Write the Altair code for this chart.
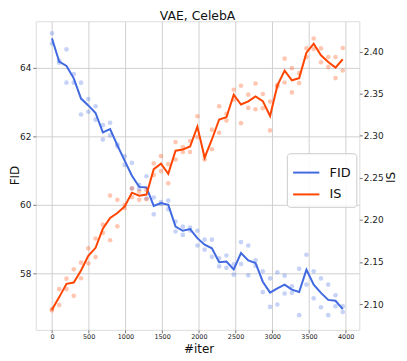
import altair as alt
import pandas as pd

ITER = [0, 99, 198, 297, 396, 495, 594, 693, 792, 891, 990, 1089, 1188, 1287, 1386,
        1485, 1584, 1683, 1782, 1881, 1980, 2079, 2178, 2277, 2376, 2475, 2574, 2673,
        2772, 2871, 2970, 3069, 3168, 3267, 3366, 3465, 3564, 3663, 3762, 3861, 3960]

FID_A = [65.00, 64.20, 64.53, 63.81, 63.56, 63.08, 62.87, 62.32, 62.39, 61.70, 61.41,
         61.22, 60.58, 60.83, 60.21, 60.08, 60.12, 59.51, 59.36, 59.33, 59.24, 58.98,
         58.98, 58.44, 58.52, 58.26, 58.91, 58.81, 58.38, 58.06, 57.85, 58.03, 57.93,
         57.62, 58.13, 58.54, 58.06, 57.85, 57.67, 57.36, 57.04]
FID_B = [64.70, 64.14, 63.56, 63.56, 62.63, 62.71, 62.48, 61.90, 62.02, 61.76, 61.16,
         60.47, 60.46, 60.18, 59.72, 60.02, 59.87, 59.22, 59.12, 59.25, 58.81, 58.69,
         58.48, 58.20, 58.16, 57.96, 58.27, 57.94, 58.22, 57.45, 57.02, 57.09, 57.41,
         57.43, 56.78, 57.67, 57.27, 57.01, 56.78, 57.04, 56.87]

IS_A = [2.0941, 2.1177, 2.1303, 2.1413, 2.1492, 2.1661, 2.1779, 2.1944, 2.2289, 2.2239,
        2.2181, 2.2377, 2.2337, 2.2357, 2.2672, 2.2758, 2.2663, 2.2927, 2.2867, 2.2938,
        2.3233, 2.2763, 2.3073, 2.3351, 2.3261, 2.3548, 2.3595, 2.3489, 2.3622, 2.3497,
        2.3407, 2.3605, 2.3917, 2.3804, 2.3745, 2.4040, 2.4157, 2.4039, 2.3937, 2.3937,
        2.4044]
IS_B = [2.0925, 2.0988, 2.1177, 2.1098, 2.1307, 2.1484, 2.1558, 2.1846, 2.1759, 2.1924,
        2.2141, 2.2271, 2.2239, 2.2247, 2.2534, 2.2581, 2.2436, 2.2719, 2.2808, 2.2808,
        2.2985, 2.2719, 2.2840, 2.3037, 2.3181, 2.3430, 2.3150, 2.3332, 2.3316, 2.3328,
        2.3064, 2.3587, 2.3634, 2.3516, 2.3627, 2.3936, 2.4032, 2.3874, 2.3819, 2.3686,
        2.3776]

X_TICKS = [0, 500, 1000, 1500, 2000, 2500, 3000, 3500, 4000]
FID_TICKS = [58, 60, 62, 64]
IS_TICKS = [2.10, 2.15, 2.20, 2.25, 2.30, 2.35, 2.40]

BLUE = "#4169e1"
ORANGE = "#ff4500"
FONT = "DejaVu Sans"

fid_df = pd.DataFrame({
    "iter": ITER + ITER,
    "value": FID_A + FID_B,
    "series": ["FID"] * (2 * len(ITER)),
})
is_df = pd.DataFrame({
    "iter": ITER + ITER,
    "value": IS_A + IS_B,
    "series": ["IS"] * (2 * len(ITER)),
})

x_enc = alt.X(
    "iter:Q",
    scale=alt.Scale(domain=[-220, 4185], nice=False, zero=False),
    axis=alt.Axis(values=X_TICKS, format="d", title="#iter", grid=True,
                  gridColor="#d0d0d0", gridWidth=1, domain=False, tickSize=3,
                  tickColor="#777", labelFontSize=6.5, labelPadding=1,
                  labelColor="#222", titleFontSize=12, titleFontWeight="normal",
                  titleColor="#111", titleX=164, titleY=19, titleBaseline="middle",
                  titleAlign="center"),
)

fid_scale = alt.Scale(domain=[56.35, 65.35], nice=False, zero=False)
fid_axis = alt.Axis(orient="left", values=FID_TICKS, format="d", title="FID", grid=True,
                    gridColor="#d0d0d0", gridWidth=1, domain=False, tickSize=3,
                    tickColor="#777", labelFontSize=9, labelPadding=2, labelColor="#222",
                    titleFontSize=12, titleFontWeight="normal", titleColor="#111",
                    titleAngle=270, titleX=-21, titleY=155, titleBaseline="middle",
                    titleAlign="center")

is_scale = alt.Scale(domain=[2.0693, 2.4362], nice=False, zero=False)
is_axis = alt.Axis(orient="right", values=IS_TICKS, format=".2f", title="IS", grid=False,
                   domain=False, tickSize=3, tickColor="#777", labelFontSize=9,
                   labelPadding=1, labelColor="#222", titleFontSize=12,
                   titleFontWeight="normal", titleColor="#111", titleAngle=270,
                   titleX=31, titleY=157, titleBaseline="middle", titleAlign="center")

color_enc = alt.Color(
    "series:N",
    scale=alt.Scale(domain=["FID", "IS"], range=[BLUE, ORANGE]),
    legend=alt.Legend(title=None, orient="none", legendX=253, legendY=133,
                      symbolType="stroke", symbolSize=700, symbolStrokeWidth=2,
                      labelFontSize=13, labelFont=FONT, labelColor="#111",
                      labelOffset=9, padding=5, rowPadding=-7,
                      fillColor="rgba(255,255,255,0.85)", strokeColor="#cccccc",
                      cornerRadius=3),
)

fid_pts = alt.Chart(fid_df).mark_circle(size=22, opacity=0.3, color=BLUE).encode(
    x=x_enc, y=alt.Y("value:Q", scale=fid_scale, axis=fid_axis))
fid_line = alt.Chart(fid_df).mark_line(strokeWidth=2).encode(
    x=x_enc, y=alt.Y("mean(value):Q", scale=fid_scale, axis=fid_axis), color=color_enc)
is_pts = alt.Chart(is_df).mark_circle(size=22, opacity=0.3, color=ORANGE).encode(
    x=x_enc, y=alt.Y("value:Q", scale=is_scale, axis=is_axis))
is_line = alt.Chart(is_df).mark_line(strokeWidth=2).encode(
    x=x_enc, y=alt.Y("mean(value):Q", scale=is_scale, axis=is_axis), color=color_enc)

fid_layer = alt.layer(fid_pts, fid_line)
is_layer = alt.layer(is_pts, is_line)

chart = alt.layer(fid_layer, is_layer).resolve_scale(y="independent").properties(
    width=326, height=311,
    title=alt.TitleParams("VAE, CelebA", fontSize=12.5, font=FONT, fontWeight="normal",
                          color="#111", anchor="middle", baseline="bottom",
                          frame="group", offset=0, dy=14),
    autosize=alt.AutoSizeParams(type="none"),
    padding={"left": 28, "top": 12, "right": 40, "bottom": 28},
).configure_view(stroke=None).configure(font=FONT)

chart.save("out.html", embed_options={"renderer": "svg", "actions": False})
